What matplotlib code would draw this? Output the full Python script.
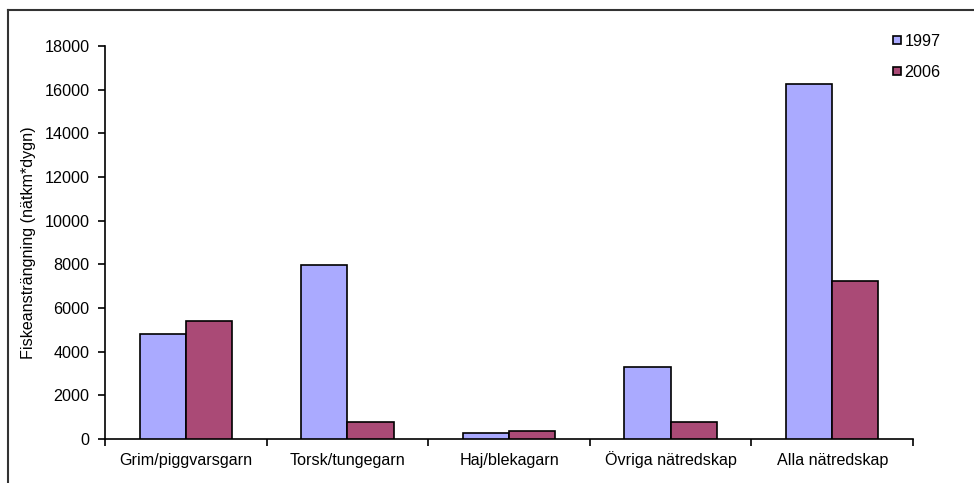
import matplotlib
matplotlib.use("Agg")
import matplotlib.pyplot as plt
import numpy as np
from matplotlib.lines import Line2D

categories = ["Grim/piggvarsgarn", "Torsk/tungegarn", "Haj/blekagarn", "Övriga nätredskap", "Alla nätredskap"]
series_names = ["1997", "2006"]
values_1997 = [4810, 7970, 290, 3310, 16280]
values_2006 = [5390, 765, 365, 790, 7250]
colors = ["#AAAAFF", "#AA4A76"]

plt.rcParams['font.family'] = ['Liberation Sans', 'DejaVu Sans']
FS = 11.6

fig = plt.figure(figsize=(9.74, 4.83), dpi=100)
ax = fig.add_axes([105/974, 1-439/483, (913-105)/974, (439-46)/483])

x = np.arange(len(categories))
w = 1/3.5
for vals, c, off in [(values_1997, colors[0], -w/2), (values_2006, colors[1], w/2)]:
    ax.bar(x + off, vals, width=w, color=c, edgecolor="black", linewidth=1.2, zorder=3)

ax.set_xlim(-0.5, len(categories) - 0.5)
ax.set_ylim(0, 18000)
ax.set_yticks(np.arange(0, 18001, 2000))
ax.set_xticks(np.arange(-0.5, len(categories), 1.0))
ax.set_xticklabels([])
ax.set_xticks(x, minor=True)
ax.set_xticklabels(categories, minor=True, fontsize=FS)
for lbl in ax.get_xticklabels(minor=True):
    lbl.set_verticalalignment('baseline')
ax.tick_params(axis='x', which='minor', length=0, pad=18.5)
ax.tick_params(axis='x', which='major', length=5, width=1.2, direction='out')
ax.tick_params(axis='y', length=5, width=1.2, direction='out', labelsize=FS, pad=6)
for s in ['top', 'right']:
    ax.spines[s].set_visible(False)
for s in ['left', 'bottom']:
    ax.spines[s].set_linewidth(1.2)
ax.set_ylabel("Fiskeansträngning (nätkm*dygn)", fontsize=FS, labelpad=6)

handles = [Line2D([], [], marker='s', linestyle='none', markersize=6,
                  markerfacecolor=c, markeredgecolor='black', markeredgewidth=1.2) for c in colors]
fig.legend(handles, series_names, loc='upper left', bbox_to_anchor=(891/974, 1-34/483),
           frameon=False, fontsize=FS, handletextpad=0.05, labelspacing=1.0,
           handlelength=0.8, borderaxespad=0, borderpad=0)

# outer frame (top and left edges visible)
fig.add_artist(Line2D([8/974, 8/974], [0, 1-10/483], transform=fig.transFigure, color="#333333", linewidth=1.5))
fig.add_artist(Line2D([8/974, 1], [1-10/483, 1-10/483], transform=fig.transFigure, color="#333333", linewidth=1.5))

fig.savefig("out.png", dpi=100)
